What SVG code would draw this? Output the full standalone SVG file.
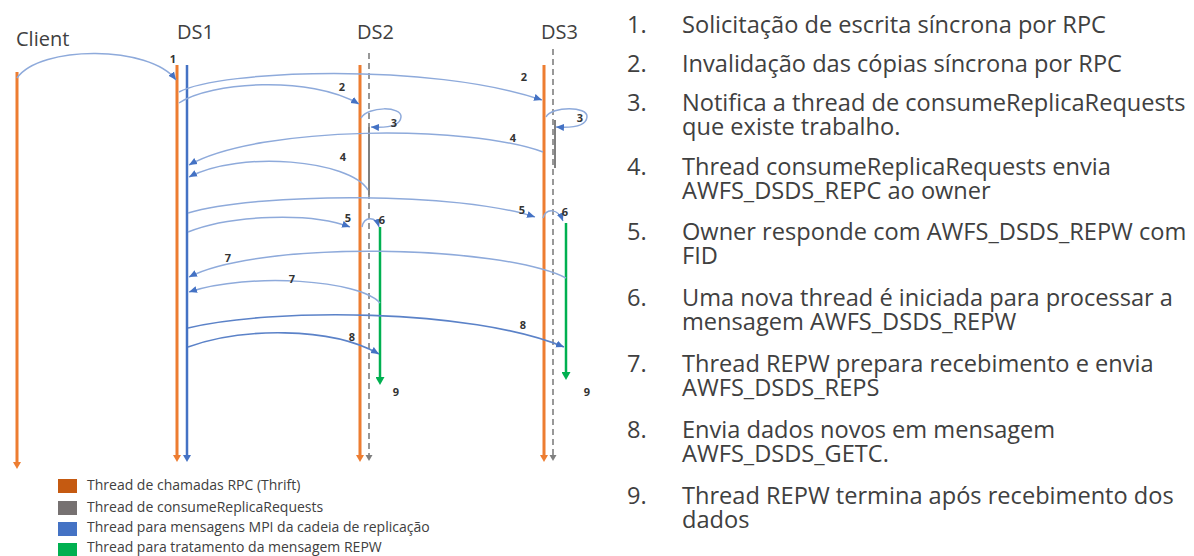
<svg xmlns="http://www.w3.org/2000/svg" width="1194" height="556" viewBox="0 0 1194 556">
  <style>
    .hdr { font-family: "Open Sans", "Liberation Sans", sans-serif; font-size: 20px; fill: #404040; }
    .num { font-family: "Open Sans", "Liberation Sans", sans-serif; font-size: 11px; font-weight: bold; fill: #333333; text-anchor: middle; }
    .item { font-family: "Open Sans", "Liberation Sans", sans-serif; font-size: 23.6px; fill: #404040; }
    .leg { font-family: "Open Sans", "Liberation Sans", sans-serif; font-size: 14px; fill: #404040; }
    .rpc { stroke: #ED7D31; stroke-width: 3; fill: none; }
    .mpi { stroke: #4472C4; stroke-width: 2.5; fill: none; }
    .crr { stroke: #808080; stroke-width: 2; fill: none; }
    .repw { stroke: #00B050; stroke-width: 2.5; fill: none; }
    .dash { stroke: #7F7F7F; stroke-width: 1.6; stroke-dasharray: 6 4; fill: none; }
    .msg { stroke: #8EAADB; stroke-width: 1.5; fill: none; marker-end: url(#tip); }
    .msg2 { stroke: #5B82C8; stroke-width: 1.6; fill: none; marker-end: url(#tip); }
  </style>
  <defs>
    <marker id="tip" markerUnits="userSpaceOnUse" markerWidth="9" markerHeight="8" refX="8" refY="4" orient="auto">
      <path d="M0,0.5 L8,4 L0,7.5 z" fill="#4472C4"/>
    </marker>
    <marker id="endO" markerUnits="userSpaceOnUse" markerWidth="8" markerHeight="8" refX="1" refY="4" orient="auto">
      <path d="M0,0 L7,4 L0,8 z" fill="#ED7D31"/>
    </marker>
    <marker id="endB" markerUnits="userSpaceOnUse" markerWidth="8" markerHeight="8" refX="1" refY="4" orient="auto">
      <path d="M0,0 L7,4 L0,8 z" fill="#4472C4"/>
    </marker>
    <marker id="endG" markerUnits="userSpaceOnUse" markerWidth="8" markerHeight="8" refX="1" refY="4" orient="auto">
      <path d="M0,0.5 L6,4 L0,7.5 z" fill="#7F7F7F"/>
    </marker>
    <marker id="endV" markerUnits="userSpaceOnUse" markerWidth="9" markerHeight="9" refX="1" refY="4.5" orient="auto">
      <path d="M0,0 L8,4.5 L0,9 z" fill="#00B050"/>
    </marker>
  </defs>

  <!-- Participant: Client -->
  <g id="client">
    <text class="hdr" x="16" y="46">Client</text>
    <line class="rpc" x1="17" y1="72" x2="17" y2="463" marker-end="url(#endO)"/>
  </g>

  <!-- Participant: DS1 (RPC thread + MPI thread) -->
  <g id="ds1">
    <text class="hdr" x="177" y="39">DS1</text>
    <line class="rpc" x1="177" y1="65" x2="177" y2="456" marker-end="url(#endO)"/>
    <line class="mpi" x1="187" y1="65" x2="187" y2="456" marker-end="url(#endB)"/>
  </g>

  <!-- Participant: DS2 -->
  <g id="ds2">
    <text class="hdr" x="357" y="39">DS2</text>
    <line class="dash" x1="369" y1="53" x2="369" y2="456" marker-end="url(#endG)"/>
    <line class="rpc" x1="360" y1="65" x2="360" y2="456" marker-end="url(#endO)"/>
    <line class="crr" x1="369" y1="127" x2="369" y2="195"/>
    <line class="repw" x1="380" y1="227" x2="380" y2="378" marker-end="url(#endV)"/>
  </g>

  <!-- Participant: DS3 -->
  <g id="ds3">
    <text class="hdr" x="541" y="39">DS3</text>
    <line class="dash" x1="553" y1="49" x2="553" y2="456" marker-end="url(#endG)"/>
    <line class="rpc" x1="544" y1="65" x2="544" y2="456" marker-end="url(#endO)"/>
    <line class="crr" x1="555" y1="120" x2="555" y2="168"/>
    <line class="repw" x1="566" y1="223" x2="566" y2="373" marker-end="url(#endV)"/>
  </g>

  <!-- Messages between threads -->
  <g id="connectors">
    <!-- 1: write request Client -> DS1 -->
    <path class="msg" d="M17,78 C40,45 150,45 176,80"/>
    <!-- 2: invalidation DS1 -> DS3 and DS1 -> DS2 -->
    <path class="msg" d="M179,92 C220,70 430,62 542,100"/>
    <path class="msg" d="M179,103 C210,82 310,75 359,104"/>
    <!-- 3: wake consumeReplicaRequests -->
    <path class="msg" d="M361,118 C368,106 402,106 401,117 C400,127 386,128 371,127"/>
    <path class="msg" d="M546,117 C552,106 588,106 587,117 C586,127 571,128 556,127"/>
    <!-- 4: REPC to owner -->
    <path class="msg" d="M543,152 C470,125 260,125 189,165"/>
    <path class="msg" d="M368,190 C350,160 240,150 189,177"/>
    <!-- 5: REPW reply -->
    <path class="msg" d="M188,213 C260,192 460,192 535,217"/>
    <path class="msg" d="M188,232 C230,215 310,212 350,227"/>
    <!-- 6: spawn REPW thread -->
    <path class="msg" d="M362,227 C364,216 376,216 379,227"/>
    <path class="msg" d="M543,218 C546,208 558,208 563,221"/>
    <!-- 7: REPS -->
    <path class="msg" d="M566,278 C500,245 260,240 189,277"/>
    <path class="msg" d="M380,303 C360,280 250,272 189,292"/>
    <!-- 8: GETC data -->
    <path class="msg2" d="M188,328 C270,308 470,308 564,347"/>
    <path class="msg2" d="M188,347 C240,328 330,326 379,354"/>
  </g>

  <!-- Step numbers on the messages -->
  <g id="step-labels">
    <text class="num" x="173" y="63">1</text>
    <text class="num" x="342" y="91">2</text>
    <text class="num" x="524" y="81">2</text>
    <text class="num" x="394" y="127">3</text>
    <text class="num" x="580" y="122">3</text>
    <text class="num" x="513" y="142">4</text>
    <text class="num" x="343" y="161">4</text>
    <text class="num" x="348" y="222">5</text>
    <text class="num" x="522" y="214">5</text>
    <text class="num" x="382" y="224">6</text>
    <text class="num" x="565" y="216">6</text>
    <text class="num" x="228" y="262">7</text>
    <text class="num" x="292" y="283">7</text>
    <text class="num" x="523" y="329">8</text>
    <text class="num" x="352" y="341">8</text>
    <text class="num" x="396" y="396">9</text>
    <text class="num" x="587" y="396">9</text>
  </g>

  <!-- Legend of thread colours -->
  <g id="legend">
    <rect x="58" y="479" width="19" height="14" fill="#C55A11"/>
    <text class="leg" x="87" y="490">Thread de chamadas RPC (Thrift)</text>
    <rect x="58" y="501" width="19" height="14" fill="#767171"/>
    <text class="leg" x="87" y="512">Thread de consumeReplicaRequests</text>
    <rect x="58" y="522" width="19" height="14" fill="#4472C4"/>
    <text class="leg" x="87" y="532">Thread para mensagens MPI da cadeia de replicação</text>
    <rect x="58" y="543" width="19" height="14" fill="#00B050"/>
    <text class="leg" x="87" y="552">Thread para tratamento da mensagem REPW</text>
  </g>

  <!-- Numbered description of the steps -->
  <g id="steps">
    <text class="item" x="627" y="33">1.</text>
    <text class="item" x="682" y="33">Solicitação de escrita síncrona por RPC</text>
    <text class="item" x="627" y="72">2.</text>
    <text class="item" x="682" y="72">Invalidação das cópias síncrona por RPC</text>
    <text class="item" x="627" y="111">3.</text>
    <text class="item" x="682" y="111">Notifica a thread de consumeReplicaRequests</text>
    <text class="item" x="682" y="135">que existe trabalho.</text>
    <text class="item" x="627" y="175">4.</text>
    <text class="item" x="682" y="175">Thread consumeReplicaRequests envia</text>
    <text class="item" x="682" y="199">AWFS_DSDS_REPC ao owner</text>
    <text class="item" x="627" y="240">5.</text>
    <text class="item" x="682" y="240">Owner responde com AWFS_DSDS_REPW com</text>
    <text class="item" x="682" y="264">FID</text>
    <text class="item" x="627" y="306">6.</text>
    <text class="item" x="682" y="306">Uma nova thread é iniciada para processar a</text>
    <text class="item" x="682" y="330">mensagem AWFS_DSDS_REPW</text>
    <text class="item" x="627" y="372">7.</text>
    <text class="item" x="682" y="372">Thread REPW prepara recebimento e envia</text>
    <text class="item" x="682" y="396">AWFS_DSDS_REPS</text>
    <text class="item" x="627" y="438">8.</text>
    <text class="item" x="682" y="438">Envia dados novos em mensagem</text>
    <text class="item" x="682" y="462">AWFS_DSDS_GETC.</text>
    <text class="item" x="627" y="504">9.</text>
    <text class="item" x="682" y="504">Thread REPW termina após recebimento dos</text>
    <text class="item" x="682" y="528">dados</text>
  </g>
</svg>
